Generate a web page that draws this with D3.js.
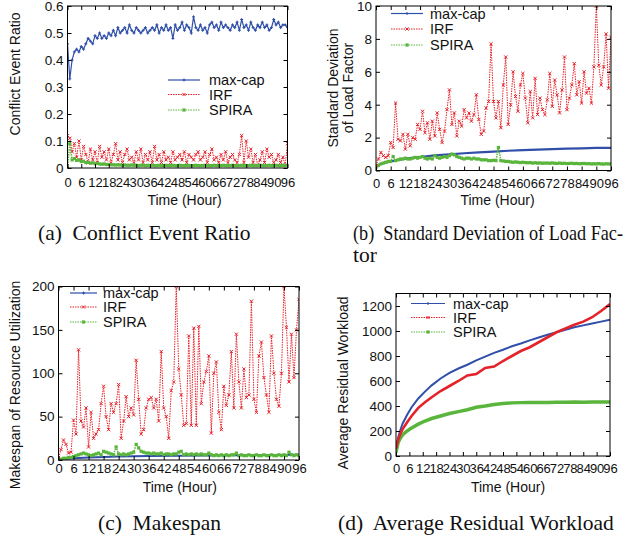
<!DOCTYPE html>
<html>
<head>
<meta charset="utf-8">
<script src="https://cdn.jsdelivr.net/npm/d3@7"></script>
<style>
  body { margin: 0; background: #fff; }
  svg text { font-family: "Liberation Sans", Arial, sans-serif; fill: #111; }
  .cap { font-family: "Liberation Serif", "Times New Roman", serif; white-space: pre; }
</style>
</head>
<body>
<svg id="fig" width="626" height="538"></svg>
<script>
// sample times (hours) for the dense series, and x tick labels
const hours = d3.range(0, 97);
const xTicks = [0, 6, 12, 18, 24, 30, 36, 42, 48, 54, 60, 66, 72, 78, 84, 90, 96];
const seriesNames = ["max-cap", "IRF", "SPIRA"];

// (a) conflict event ratio
const ratioMaxcap = [
  0.46, 0.33, 0.40, 0.43, 0.44, 0.43, 0.45, 0.44, 0.46, 0.48,
  0.47, 0.46, 0.49, 0.48, 0.50, 0.48, 0.49, 0.48, 0.50, 0.49,
  0.51, 0.49, 0.52, 0.50, 0.51, 0.52, 0.50, 0.53, 0.51, 0.50,
  0.52, 0.51, 0.50, 0.51, 0.52, 0.50, 0.51, 0.52, 0.51, 0.53,
  0.50, 0.52, 0.51, 0.53, 0.51, 0.52, 0.48, 0.53, 0.51, 0.52,
  0.54, 0.51, 0.53, 0.52, 0.50, 0.56, 0.52, 0.51, 0.53, 0.51,
  0.52, 0.50, 0.53, 0.54, 0.52, 0.53, 0.51, 0.54, 0.52, 0.53,
  0.52, 0.51, 0.53, 0.52, 0.54, 0.51, 0.55, 0.52, 0.53, 0.51,
  0.54, 0.52, 0.51, 0.53, 0.52, 0.54, 0.52, 0.53, 0.51, 0.52,
  0.55, 0.53, 0.54, 0.52, 0.53, 0.53, 0.52];
const ratioIrf = [
  0.12, 0.11, 0.06, 0.09, 0.04, 0.10, 0.03, 0.08, 0.05, 0.02,
  0.07, 0.03, 0.06, 0.02, 0.08, 0.04, 0.06, 0.03, 0.07, 0.02,
  0.05, 0.09, 0.03, 0.06, 0.02, 0.05, 0.07, 0.03, 0.04, 0.02,
  0.06, 0.03, 0.07, 0.02, 0.05, 0.03, 0.06, 0.02, 0.08, 0.03,
  0.05, 0.02, 0.06, 0.03, 0.04, 0.02, 0.06, 0.03, 0.04, 0.05,
  0.03, 0.06, 0.02, 0.05, 0.04, 0.03, 0.05, 0.06, 0.03, 0.04,
  0.06, 0.02, 0.05, 0.07, 0.03, 0.04, 0.02, 0.05, 0.03, 0.06,
  0.02, 0.04, 0.05, 0.03, 0.02, 0.05, 0.12, 0.02, 0.10, 0.04,
  0.07, 0.02, 0.05, 0.01, 0.03, 0.06, 0.02, 0.07, 0.04, 0.05,
  0.02, 0.03, 0.05, 0.02, 0.04, 0.01, 0.09];
const ratioSpira = [
  0.000, 0.090, 0.030, 0.035, 0.028, 0.030, 0.024, 0.025, 0.020, 0.021,
  0.018, 0.019, 0.016, 0.017, 0.015, 0.014, 0.015, 0.013, 0.013, 0.012,
  0.012, 0.011, 0.012, 0.011, 0.010, 0.011, 0.010, 0.010, 0.011, 0.010,
  0.010, 0.009, 0.010, 0.010, 0.009, 0.010, 0.009, 0.010, 0.009, 0.009,
  0.010, 0.009, 0.009, 0.010, 0.009, 0.009, 0.010, 0.009, 0.009, 0.010,
  0.009, 0.009, 0.010, 0.009, 0.009, 0.009, 0.010, 0.009, 0.009, 0.009,
  0.010, 0.009, 0.009, 0.009, 0.010, 0.009, 0.009, 0.009, 0.010, 0.009,
  0.009, 0.009, 0.010, 0.009, 0.009, 0.009, 0.010, 0.009, 0.009, 0.009,
  0.010, 0.009, 0.009, 0.009, 0.010, 0.009, 0.009, 0.009, 0.010, 0.009,
  0.009, 0.010, 0.009, 0.009, 0.010, 0.009, 0.010];

// (b) standard deviation of load factor
const sdMaxcapHours = [0, 3, 6, 9, 12, 18, 24, 30, 36, 42, 48, 54, 60, 66, 72, 78, 84, 90, 96];
const sdMaxcap = [0.3, 0.45, 0.55, 0.65, 0.72, 0.82, 0.92, 0.98, 1.05, 1.1, 1.15, 1.2, 1.24, 1.27, 1.3, 1.33, 1.35, 1.37, 1.38];
const sdIrf = [
  0.3, 0.7, 1.1, 0.9, 0.8, 0.9, 1.7, 1.4, 4.1, 1.9,
  1.8, 2.2, 1.3, 2.2, 1.5, 2.0, 1.9, 2.8, 2.5, 3.6,
  2.3, 2.9, 1.9, 3.0, 2.1, 3.5, 2.5, 1.7, 2.4, 3.7,
  4.9, 2.8, 3.5, 2.1, 3.0, 2.7, 3.7, 3.2, 3.5, 3.0,
  3.4, 4.6, 3.1, 2.2, 2.4, 3.8, 4.2, 7.7, 4.2, 3.2,
  4.2, 2.6, 5.2, 6.9, 2.8, 4.0, 6.0, 4.5, 3.6, 5.2,
  5.9, 4.4, 2.9, 4.8, 3.2, 5.6, 3.4, 4.4, 3.7, 3.4,
  4.3, 5.9, 3.9, 5.5, 4.6, 3.5, 4.9, 6.9, 3.7, 4.4,
  5.2, 6.5, 4.6, 5.4, 4.1, 6.0, 4.7, 5.0, 4.1, 6.3,
  10.0, 6.4, 5.2, 6.3, 8.3, 5.0, 8.1];
const sdSpira = [
  0.2, 0.3, 0.4, 0.45, 0.5, 0.55, 0.55, 0.85, 0.6, 0.65,
  0.7, 0.7, 0.75, 0.7, 0.7, 0.75, 0.8, 0.75, 0.8, 0.85,
  0.75, 0.7, 0.75, 0.7, 0.9, 0.8, 0.75, 0.8, 0.85, 0.8,
  0.9, 1.0, 0.95, 0.85, 0.8, 0.75, 0.7, 0.75, 0.75, 0.7,
  0.75, 0.7, 0.7, 0.65, 0.65, 0.65, 0.6, 0.6, 0.62, 0.6,
  1.4, 0.6, 0.58, 0.55, 0.55, 0.52, 0.5, 0.52, 0.5, 0.48,
  0.5, 0.48, 0.47, 0.48, 0.45, 0.47, 0.45, 0.46, 0.44, 0.45,
  0.45, 0.44, 0.46, 0.44, 0.43, 0.45, 0.43, 0.44, 0.42, 0.43,
  0.44, 0.42, 0.43, 0.41, 0.42, 0.43, 0.41, 0.42, 0.4, 0.41,
  0.4, 0.42, 0.4, 0.39, 0.41, 0.4, 0.4];

// (c) makespan of resource utilization
const makeMaxcapHours = [0, 6, 12, 18, 24, 36, 48, 60, 72, 84, 96];
const makeMaxcap = [0.5, 2, 3, 3.5, 4, 4.5, 5, 5.3, 5.5, 5.8, 6];
const makeIrf = [
  3, 12, 23, 18, 8, 9, 46, 30, 127, 45,
  38, 60, 15, 55, 25, 30, 35, 65, 85, 50,
  35, 65, 55, 65, 87, 25, 45, 73, 50, 60,
  52, 115, 70, 30, 35, 60, 70, 72, 60, 70,
  45, 125, 60, 50, 25, 80, 90, 200, 105, 75,
  40, 42, 143, 40, 152, 40, 154, 65, 90, 102,
  120, 31, 100, 113, 55, 35, 85, 63, 75, 125,
  60, 145, 90, 60, 105, 72, 75, 183, 70, 55,
  120, 136, 95, 75, 55, 143, 100, 70, 62, 100,
  200, 153, 90, 145, 95, 150, 185];
const makeSpira = [
  1, 1, 2, 2, 3, 3, 4, 5, 6, 7,
  8, 7, 6, 5, 6, 7, 8, 6, 10, 9,
  8, 7, 6, 15, 7, 6, 7, 6, 7, 8,
  9, 18, 14, 10, 9, 8, 8, 7, 8, 7,
  7, 8, 6, 7, 7, 6, 7, 7, 9, 10,
  6, 7, 6, 7, 6, 7, 6, 7, 6, 6,
  8, 6, 5, 6, 5, 6, 5, 6, 5, 6,
  6, 8, 5, 6, 5, 5, 6, 5, 5, 6,
  5, 5, 6, 5, 5, 6, 5, 5, 6, 5,
  6, 5, 9, 6, 5, 6, 5];

// (d) average residual workload
const workHours = [0, 1, 2, 3, 5, 7, 10, 13, 16, 20, 24, 28, 32, 36, 40, 44, 48, 52, 56, 60, 64, 68, 72, 76, 80, 84, 88, 92, 96];
const workMaxcap = [60, 150, 210, 260, 330, 390, 460, 515, 565, 620, 665, 700, 730, 765, 795, 825, 850, 878, 900, 925, 948, 970, 990, 1010, 1030, 1045, 1060, 1075, 1090];
const workIrf = [60, 130, 180, 215, 270, 320, 385, 430, 470, 520, 560, 600, 645, 655, 705, 715, 760, 800, 840, 870, 910, 950, 990, 1020, 1050, 1075, 1110, 1160, 1215];
const workSpira = [30, 110, 145, 170, 200, 225, 255, 280, 300, 320, 340, 355, 370, 390, 400, 412, 420, 425, 427, 428, 428, 428, 430, 430, 431, 430, 432, 432, 433];

const colors = { "max-cap": "#2f4fa8", "IRF": "#e4222a", "SPIRA": "#5ab53c" };
const svg = d3.select("#fig");
let clipCount = 0;

function marker(g, name, cx, cy) {
  const c = colors[name];
  if (name === "max-cap") {
    g.append("path").attr("d", `M${cx - 1.5},${cy}H${cx + 1.5}M${cx},${cy - 1.5}V${cy + 1.5}`)
      .attr("stroke", c).attr("stroke-width", 1).attr("fill", "none");
  } else if (name === "IRF") {
    g.append("path").attr("d", `M${cx - 1.6},${cy - 1.6}L${cx + 1.6},${cy + 1.6}M${cx - 1.6},${cy + 1.6}L${cx + 1.6},${cy - 1.6}`)
      .attr("stroke", c).attr("stroke-width", 1).attr("fill", "none");
  } else {
    g.append("rect").attr("x", cx - 1.6).attr("y", cy - 1.6).attr("width", 3.2).attr("height", 3.2).attr("fill", c);
  }
}

function drawPanel(p) {
  const x = d3.scaleLinear().domain([0, 96]).range([p.left, p.right]);
  const y = d3.scaleLinear().domain(p.yDomain).range([p.bottom, p.top]);
  const g = svg.append("g");

  const id = "clip" + (clipCount++);
  svg.append("clipPath").attr("id", id).append("rect")
    .attr("x", p.left).attr("y", p.top)
    .attr("width", p.right - p.left).attr("height", p.bottom - p.top);

  // series
  const plot = g.append("g").attr("clip-path", `url(#${id})`);
  p.series.forEach(s => {
    const pts = s.t.map((t, i) => [t, s.v[i]]);
    const line = d3.line().x(d => x(d[0])).y(d => y(d[1]));
    plot.append("path").datum(pts)
      .attr("fill", "none")
      .attr("stroke", colors[s.name])
      .attr("stroke-width", s.width || 1)
      .attr("stroke-dasharray", s.dash || null)
      .attr("d", line);
    if (s.marks) pts.forEach(d => marker(plot, s.name, x(d[0]), y(d[1])));
  });

  // axes, ticks inward on all four sides
  const bottom = g.append("g").attr("transform", `translate(0,${p.bottom})`)
    .call(d3.axisBottom(x).tickValues(xTicks).tickSize(-4).tickPadding(p.xPad));
  g.append("g").attr("transform", `translate(0,${p.top})`)
    .call(d3.axisTop(x).tickValues(xTicks).tickSize(-4).tickFormat(""));
  const left = g.append("g").attr("transform", `translate(${p.left},0)`)
    .call(d3.axisLeft(y).tickValues(p.yTicks).tickSize(-4).tickPadding(4).tickFormat(p.yFormat));
  g.append("g").attr("transform", `translate(${p.right},0)`)
    .call(d3.axisRight(y).tickValues(p.yTicks).tickSize(-4).tickFormat(""));
  g.selectAll(".domain").remove();
  g.selectAll(".tick line").attr("stroke", "#000");
  bottom.selectAll("text").attr("font-size", 13).attr("fill", "#111");
  left.selectAll("text").attr("font-size", 13.5).attr("fill", "#111");

  g.append("rect").attr("x", p.left).attr("y", p.top)
    .attr("width", p.right - p.left).attr("height", p.bottom - p.top)
    .attr("fill", "none").attr("stroke", "#000").attr("stroke-width", 1);

  // axis titles
  g.append("text").attr("x", (p.left + p.right) / 2 + p.xTitleDx).attr("y", p.xTitleY)
    .attr("text-anchor", "middle").attr("font-size", 14).text("Time (Hour)");
  p.yTitle.forEach((t, i) => {
    g.append("text")
      .attr("transform", `translate(${p.yTitleX[i]},${p.yTitleY}) rotate(-90)`)
      .attr("text-anchor", "middle").attr("font-size", 14).text(t);
  });

  // legend
  seriesNames.forEach((name, i) => {
    const ly = p.legY[i];
    g.append("line").attr("x1", p.legX[0]).attr("x2", p.legX[1]).attr("y1", ly).attr("y2", ly)
      .attr("stroke", colors[name]).attr("stroke-width", name === "max-cap" ? 1.2 : 1)
      .attr("stroke-dasharray", name === "max-cap" ? null : "1.5,1");
    marker(g, name, (p.legX[0] + p.legX[1]) / 2, ly);
    g.append("text").attr("x", p.legX[2]).attr("y", ly + 5).attr("font-size", 14.5).text(name);
  });

  // caption
  p.caption.forEach((c, i) => {
    const t = svg.append("text").attr("class", "cap").attr("x", p.capX).attr("y", p.capY + i * 22)
      .attr("font-size", 21.5).text(c);
    if (p.capFit && i === 0) t.attr("textLength", p.capFit).attr("lengthAdjust", "spacingAndGlyphs");
  });
}

const plain = d3.format("d");

drawPanel({
  left: 67.5, right: 287.5, top: 6, bottom: 168, xPad: 10,
  yDomain: [0, 0.6], yTicks: [0, 0.1, 0.2, 0.3, 0.4, 0.5, 0.6],
  yFormat: d => d === 0 ? "0" : d3.format(".1f")(d),
  xTitleDx: 7, xTitleY: 205,
  yTitle: ["Conflict Event Ratio"], yTitleX: [20], yTitleY: 74,
  legX: [168, 200, 209], legY: [80, 94.5, 110],
  caption: ["(a)  Conflict Event Ratio"], capX: 38, capY: 240,
  series: [
    { name: "IRF", t: hours, v: ratioIrf, dash: "1.5,1", marks: true },
    { name: "SPIRA", t: hours, v: ratioSpira, dash: "1.5,1", marks: true, width: 1.5 },
    { name: "max-cap", t: hours, v: ratioMaxcap, width: 1.2, marks: true }
  ]
});

drawPanel({
  left: 376, right: 611, top: 6, bottom: 170.5, xPad: 8,
  yDomain: [0, 10], yTicks: [0, 2, 4, 6, 8, 10], yFormat: plain,
  xTitleDx: 4, xTitleY: 205,
  yTitle: ["Standard Deviation", "of Load Factor"], yTitleX: [338, 353], yTitleY: 88,
  legX: [391, 423, 430], legY: [13.5, 29, 45],
  caption: ["(b)  Standard Deviation of Load Fac-", "tor"], capX: 353, capY: 240, capFit: 270,
  series: [
    { name: "max-cap", t: sdMaxcapHours, v: sdMaxcap, width: 2.2 },
    { name: "SPIRA", t: hours, v: sdSpira, dash: "1.5,1", marks: true, width: 1.5 },
    { name: "IRF", t: hours, v: sdIrf, dash: "1.5,1", marks: true }
  ]
});

drawPanel({
  left: 58.5, right: 299, top: 286.5, bottom: 460, xPad: 4,
  yDomain: [0, 200], yTicks: [0, 50, 100, 150, 200], yFormat: plain,
  xTitleDx: 1, xTitleY: 492,
  yTitle: ["Makespan of Resource Utilization"], yTitleX: [20], yTitleY: 385,
  legX: [70, 97, 103], legY: [293, 307, 322],
  caption: ["(c)  Makespan"], capX: 98, capY: 530,
  series: [
    { name: "max-cap", t: makeMaxcapHours, v: makeMaxcap, width: 2 },
    { name: "SPIRA", t: hours, v: makeSpira, dash: "1.5,1", marks: true, width: 1.5 },
    { name: "IRF", t: hours, v: makeIrf, dash: "1.5,1", marks: true }
  ]
});

drawPanel({
  left: 396, right: 610, top: 293.5, bottom: 456, xPad: 8,
  yDomain: [0, 1300], yTicks: [0, 200, 400, 600, 800, 1000, 1200], yFormat: plain,
  xTitleDx: 5, xTitleY: 492,
  yTitle: ["Average Residual Workload"], yTitleX: [348], yTitleY: 383,
  legX: [411, 445, 453], legY: [303.5, 317.5, 332],
  caption: ["(d)  Average Residual Workload"], capX: 338, capY: 530,
  series: [
    { name: "SPIRA", t: workHours, v: workSpira, width: 3.5 },
    { name: "max-cap", t: workHours, v: workMaxcap, width: 2 },
    { name: "IRF", t: workHours, v: workIrf, width: 2.6 }
  ]
});
</script>
</body>
</html>
